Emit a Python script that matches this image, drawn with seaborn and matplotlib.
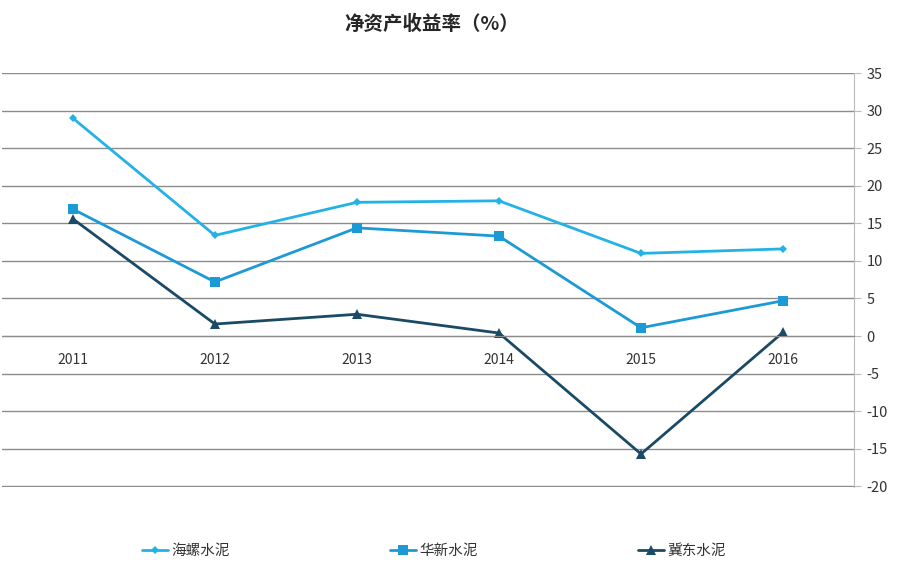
"""净资产收益率（%） line chart for three cement companies."""

import matplotlib

matplotlib.use("Agg")
import matplotlib.pyplot as plt
import pandas as pd
import seaborn as sns
from matplotlib.ticker import FixedLocator

# Data
years = ["2011", "2012", "2013", "2014", "2015", "2016"]
conch = [29.0, 13.4, 17.8, 18.0, 11.0, 11.6]      # 海螺水泥
huaxin = [16.9, 7.2, 14.4, 13.3, 1.1, 4.7]        # 华新水泥
jidong = [15.6, 1.6, 2.9, 0.4, -15.7, 0.5]        # 冀东水泥
companies = ["海螺水泥", "华新水泥", "冀东水泥"]

colors = {"海螺水泥": "#24b2e6", "华新水泥": "#1c9ad6", "冀东水泥": "#1a4a66"}
markers = {"海螺水泥": "D", "华新水泥": "s", "冀东水泥": "^"}
marker_sizes = {"海螺水泥": 4.5, "华新水泥": 7, "冀东水泥": 7}

sns.set_style("white")
plt.rcParams["font.family"] = ["Noto Sans CJK SC", "DejaVu Sans"]
plt.rcParams["axes.unicode_minus"] = False

# Long-format table for seaborn
rows = []
for name, vals in zip(companies, [conch, huaxin, jidong]):
    for i, v in enumerate(vals):
        rows.append({"idx": i, "year": years[i], "value": v, "company": name})
df = pd.DataFrame(rows)

fig = plt.figure(figsize=(9, 5.71), dpi=100)
ax = fig.add_axes([0.002, 0.147, 0.947, 0.725])

for name in companies:
    sub = df[df["company"] == name]
    sns.lineplot(
        data=sub,
        x="idx",
        y="value",
        color=colors[name],
        marker=markers[name],
        markersize=marker_sizes[name],
        markeredgewidth=0,
        linewidth=2,
        label=name,
        ax=ax,
        legend=False,
    )

# Axis limits / ticks
ax.set_xlim(-0.5, len(years) - 0.5)
ax.set_ylim(-20.1, 35)
ax.yaxis.set_major_locator(FixedLocator(range(-20, 36, 5)))
ax.yaxis.tick_right()
ax.tick_params(axis="y", which="major", length=5, color="#bbbbbb",
               labelsize=10.5, labelcolor="#333333", pad=4)
ax.grid(axis="y", color="#8c8c8c", linewidth=1)
ax.set_axisbelow(True)

# Category labels sitting under the zero line
ax.xaxis.set_major_locator(FixedLocator(range(len(years))))
ax.set_xticklabels(years)
ax.xaxis.set_minor_locator(FixedLocator([i - 0.5 for i in range(len(years) + 1)]))
ax.spines["bottom"].set_position(("data", 0))
ax.spines["bottom"].set_color("#8c8c8c")
ax.tick_params(axis="x", which="major", length=0, labelsize=10,
               labelcolor="#333333", pad=12)
ax.tick_params(axis="x", which="minor", length=5, color="#8c8c8c", direction="out")

ax.spines["top"].set_visible(False)
ax.spines["left"].set_visible(False)
ax.spines["right"].set_color("#bbbbbb")
ax.set_xlabel("")
ax.set_ylabel("")

fig.suptitle("净资产收益率（%）", x=0.48, y=0.975, fontsize=14, fontweight="bold")

handles, labels = ax.get_legend_handles_labels()
fig.legend(handles, labels, loc="center", bbox_to_anchor=(0.482, 0.035), ncol=3,
           frameon=False, fontsize=10.5, handlelength=1.8, handletextpad=0.2,
           columnspacing=11.0, labelcolor="#333333")

fig.savefig("out.png", dpi=100, facecolor="white")
plt.close(fig)
